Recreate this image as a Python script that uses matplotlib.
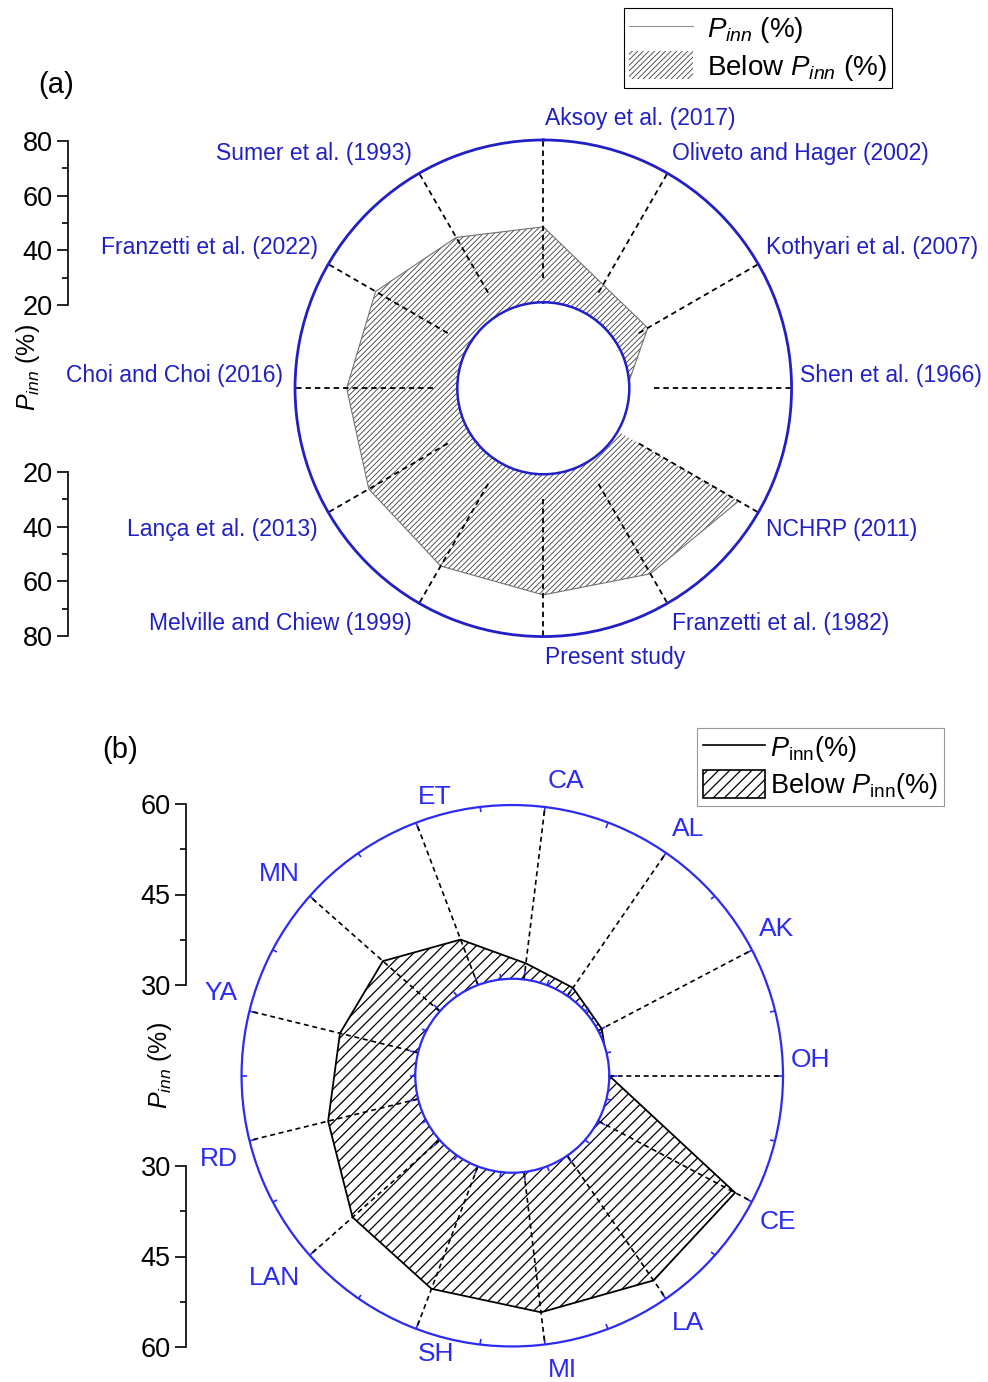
import numpy as np
import matplotlib.pyplot as plt
from matplotlib.patches import Patch
from matplotlib.lines import Line2D

plt.rcParams['font.family'] = ['Liberation Sans', 'DejaVu Sans']
plt.rcParams['mathtext.fontset'] = 'custom'
plt.rcParams['mathtext.rm'] = 'Liberation Sans'
plt.rcParams['mathtext.it'] = 'Liberation Sans:italic'

# (a) studies, clockwise from the top
studies = ['Aksoy et al. (2017)', 'Oliveto and Hager (2002)', 'Kothyari et al. (2007)',
           'Shen et al. (1966)', 'NCHRP (2011)', 'Franzetti et al. (1982)', 'Present study',
           'Melville and Chiew (1999)', 'Lança et al. (2013)', 'Choi and Choi (2016)',
           'Franzetti et al. (2022)', 'Sumer et al. (1993)']
pinn_a = [47.9, 32.4, 32.8, 19.0, 71.6, 67.4, 64.6, 64.1, 62.7, 60.9, 59.8, 52.6]
ticks_a = [20, 40, 60, 80]

# (b) sites, counter-clockwise from the east
sites = ['OH', 'AK', 'AL', 'CA', 'ET', 'MN', 'YA', 'RD', 'LAN', 'SH', 'MI', 'LA', 'CE']
pinn_b = [30.0, 30.7, 31.7, 32.8, 38.4, 43.1, 43.9, 46.0, 50.1, 52.6, 54.4, 56.2, 56.7]
ticks_b = [30, 45, 60]

blue_a = '#2020c4'
blue_b = '#2b2bf5'
grey_a = '#3e3e3e'

fig = plt.figure(figsize=(9.88, 13.82), dpi=100)


def spoke_labels(ax, thetas, names, rmax, color, size, screen_angle, dy0, dy1):
    for th, name in zip(thetas, names):
        phi = screen_angle(th)
        c, s = np.cos(phi), np.sin(phi)
        if c > -0.4:
            ha, dx = 'left', 2 + 6 * max(c, 0)
        else:
            ha, dx = 'right', -2 + 10 * c
        sign = 1 if s > -1e-6 else -1
        dy = sign * (dy0 + dy1 * abs(s))
        ax.annotate(name, xy=(th, rmax), xytext=(dx, dy), textcoords='offset pixels',
                    ha=ha, va='center', color=color, fontsize=size, annotation_clip=False)


def side_axis(rect, lo, hi, ticks, flip):
    ax = fig.add_axes(rect)
    if flip:
        ax.set_ylim(hi, lo)
    else:
        ax.set_ylim(lo, hi)
    for s in ['top', 'right', 'bottom']:
        ax.spines[s].set_visible(False)
    ax.spines['left'].set_linewidth(1.2)
    ax.patch.set_visible(False)
    ax.set_xticks([])
    ax.set_yticks(ticks)
    step = ticks[1] - ticks[0]
    ax.set_yticks(np.arange(lo + step / 2, hi, step), minor=True)
    ax.tick_params(axis='y', which='major', length=8, width=1.2, labelsize=19.5, pad=3)
    ax.tick_params(axis='y', which='minor', length=4, width=1.2)
    return ax


# ---------------- panel (a) ----------------
axa = fig.add_axes([0.2986, 0.5394, 0.5026, 0.3593], projection='polar')
axa.set_theta_zero_location('N')
axa.set_theta_direction(-1)
axa.set_ylim(20, 80)
axa.set_rorigin(-11.8)
axa.grid(False)
axa.set_yticks([])
theta_a = np.deg2rad(np.arange(len(studies)) * 360 / len(studies))
axa.set_xticks(theta_a)
axa.set_xticklabels([])
axa.tick_params(axis='x', length=0)
axa.spines['polar'].set_color(blue_a)
axa.spines['polar'].set_linewidth(2.0)
axa.spines['inner'].set_color(blue_a)
axa.spines['inner'].set_linewidth(1.8)

# series runs from NCHRP round to Shen, filled down to the centre
order = list(range(4, 12)) + list(range(0, 4))
th_line = theta_a[order]
r_line = np.array(pinn_a)[order]
r0 = axa.get_rorigin()
th_poly = np.concatenate([[th_line[0]], th_line, [th_line[-1]]])
r_poly = np.concatenate([[r0], r_line, [r0]])
plt.rcParams['hatch.linewidth'] = 0.6
axa.fill(th_poly, r_poly, facecolor='none', edgecolor=grey_a, hatch='//////', linewidth=0)
axa.plot(th_line, r_line, color='#707070', lw=0.8)
for th in theta_a:
    axa.plot([th, th], [29, 80], color='k', lw=1.3, dashes=(3, 2.2))

spoke_labels(axa, theta_a, studies, 80, blue_a, 16.5,
             lambda th: np.pi / 2 - th, 13, 8)

side_axis([68 / 988, 1 - 305 / 1382, 0.02, 164 / 1382], 20, 80, ticks_a, False)
side_axis([68 / 988, 1 - 636 / 1382, 0.02, 164 / 1382], 20, 80, ticks_a, True)
fig.text(0.028, 0.734, '$P_{inn}$ (%)', rotation=90, ha='center', va='center', fontsize=18)
fig.text(0.0567, 0.9385, '(a)', ha='center', va='center', fontsize=21)

leg_a = fig.legend([Line2D([], [], color='#8a8a8a', lw=0.7),
                    Patch(facecolor='none', edgecolor=grey_a, hatch='//////', linewidth=0)],
                   ['$P_{inn}$ (%)', 'Below $P_{inn}$ (%)'],
                   loc='upper right', bbox_to_anchor=(0.903, 0.994), borderaxespad=0,
                   fancybox=False, edgecolor='k', fontsize=20, handlelength=2.3,
                   handleheight=1.2, borderpad=0.2, labelspacing=0.2, handletextpad=0.5,
                   framealpha=1)
leg_a.get_frame().set_linewidth(0.8)

# ---------------- panel (b) ----------------
axb = fig.add_axes([0.2445, 0.0257, 0.548, 0.3918], projection='polar')
axb.set_ylim(30, 60)
axb.set_rorigin(13.25)
axb.grid(False)
axb.set_yticks([])
theta_b = np.arange(len(sites)) * 2 * np.pi / len(sites)
axb.set_xticks(theta_b)
axb.set_xticks(theta_b + np.pi / len(sites), minor=True)
axb.set_xticklabels([])
axb.set_xticklabels([], minor=True)
axb.tick_params(axis='x', which='both', bottom=True, top=True, direction='in',
                color=blue_b, width=1.2)
axb.tick_params(axis='x', which='major', length=6)
axb.tick_params(axis='x', which='minor', length=3.5)
axb.spines['polar'].set_color(blue_b)
axb.spines['polar'].set_linewidth(1.6)
axb.spines['inner'].set_color(blue_b)
axb.spines['inner'].set_linewidth(1.6)

plt.rcParams['hatch.linewidth'] = 0.9
axb.fill(theta_b, pinn_b, facecolor='none', edgecolor='k', hatch='///', linewidth=1.3)
for th in theta_b:
    axb.plot([th, th], [30, 60], color='k', lw=1.2, dashes=(3, 2.2))

spoke_labels(axb, theta_b, sites, 60, blue_b, 19, lambda th: th, 16, 10)

side_axis([186 / 988, 1 - 985 / 1382, 0.02, 181 / 1382], 30, 60, ticks_b, False)
side_axis([186 / 988, 1 - 1347 / 1382, 0.02, 181 / 1382], 30, 60, ticks_b, True)
fig.text(0.162, 0.2287, '$P_{inn}$ (%)', rotation=90, ha='center', va='center', fontsize=18)
fig.text(0.1215, 0.4573, '(b)', ha='center', va='center', fontsize=21)

leg_b = fig.legend([Line2D([], [], color='k', lw=1.2),
                    Patch(facecolor='none', edgecolor='k', hatch='///', linewidth=1.2)],
                   ['$P_{\\rm inn}$(%)', 'Below $P_{\\rm inn}$(%)'],
                   loc='upper right', bbox_to_anchor=(0.9555, 0.4732), borderaxespad=0,
                   fancybox=False, edgecolor='#999999', fontsize=19.5, handlelength=2.3,
                   handleheight=1.2, borderpad=0.2, labelspacing=0.2, handletextpad=0.2,
                   framealpha=1)
leg_b.get_frame().set_linewidth(0.8)

fig.savefig('out.png', dpi=100)
